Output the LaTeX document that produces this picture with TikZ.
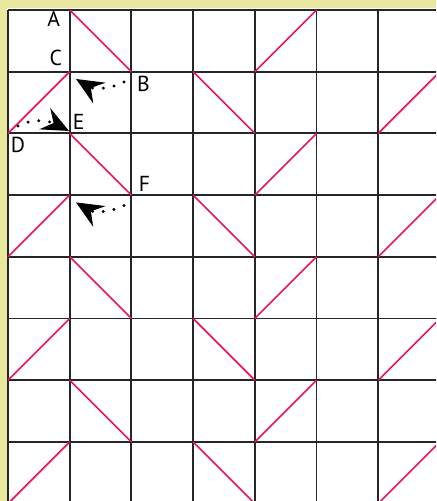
\documentclass[tikz,border=0pt]{standalone}
\usepackage{fontspec}
\setmainfont{PT Sans}
\usetikzlibrary{arrows.meta}
\definecolor{framey}{RGB}{232,233,158}
\definecolor{foldpink}{RGB}{232,22,92}
\begin{document}
\begin{tikzpicture}[
    x=1cm, y=-1cm,
    gridline/.style={draw=black!85, line width=0.9pt},
    fold/.style={draw=foldpink, line width=0.75pt},
    lbl/.style={inner sep=0pt, font=\fontsize{10}{11}\selectfont},
    move/.style={line width=1.5pt, line cap=round, dash pattern=on 0pt off 5pt,
        -{Stealth[length=12.5pt, width=11pt, inset=4.5pt]}}
]
    \fill[framey] (-0.1297,-0.162) rectangle (6.937,7.958);
    \fill[white] (-0.016,-0.032) rectangle (6.937,7.958);
    \clip (-0.1297,-0.162) rectangle (6.937,7.958);
    \foreach \i in {0,...,7} {
        \draw[gridline] (\i,0) -- (\i,8.2);
    }
    \foreach \j in {0,...,8} {
        \draw[gridline] (0,\j) -- (7.2,\j);
    }
    \foreach \r in {0,2,4,6} {
        \draw[fold] (1,\r) -- (2,\r+1);
        \draw[fold] (4,\r+1) -- (5,\r);
    }
    \foreach \r in {1,3,5,7} {
        \draw[fold] (0,\r+1) -- (1,\r);
        \draw[fold] (3,\r) -- (4,\r+1);
        \draw[fold] (6,\r+1) -- (7,\r);
    }
    \coordinate (A) at (1,0);
    \coordinate (B) at (2,1);
    \coordinate (C) at (1,1);
    \coordinate (D) at (0,2);
    \coordinate (E) at (1,2);
    \coordinate (F) at (2,3);
    \node[lbl] (labA) at ([shift={(-0.259,0.146)}]A) {A};
    \node[lbl] (labB) at ([shift={(0.194,0.194)}]B) {B};
    \node[lbl] (labC) at ([shift={(-0.227,-0.227)}]C) {C};
    \node[lbl] (labD) at ([shift={(0.162,0.194)}]D) {D};
    \node[lbl] (labE) at ([shift={(0.146,-0.178)}]E) {E};
    \node[lbl] (labF) at ([shift={(0.211,-0.178)}]F) {F};
    \coordinate (m1s) at (1.880,1.167);
    \coordinate (m1e) at (1.102,1.118);
    \coordinate (m2s) at (0.162,1.880);
    \coordinate (m2e) at (0.989,1.961);
    \coordinate (m3s) at (1.880,3.167);
    \coordinate (m3e) at (1.102,3.118);
    \draw[move] (m1s) to[out=207, in=-31] (m1e);
    \draw[move] (m2s) to[out=27, in=153] (m2e);
    \draw[move] (m3s) to[out=207, in=-31] (m3e);
\end{tikzpicture}
\end{document}
